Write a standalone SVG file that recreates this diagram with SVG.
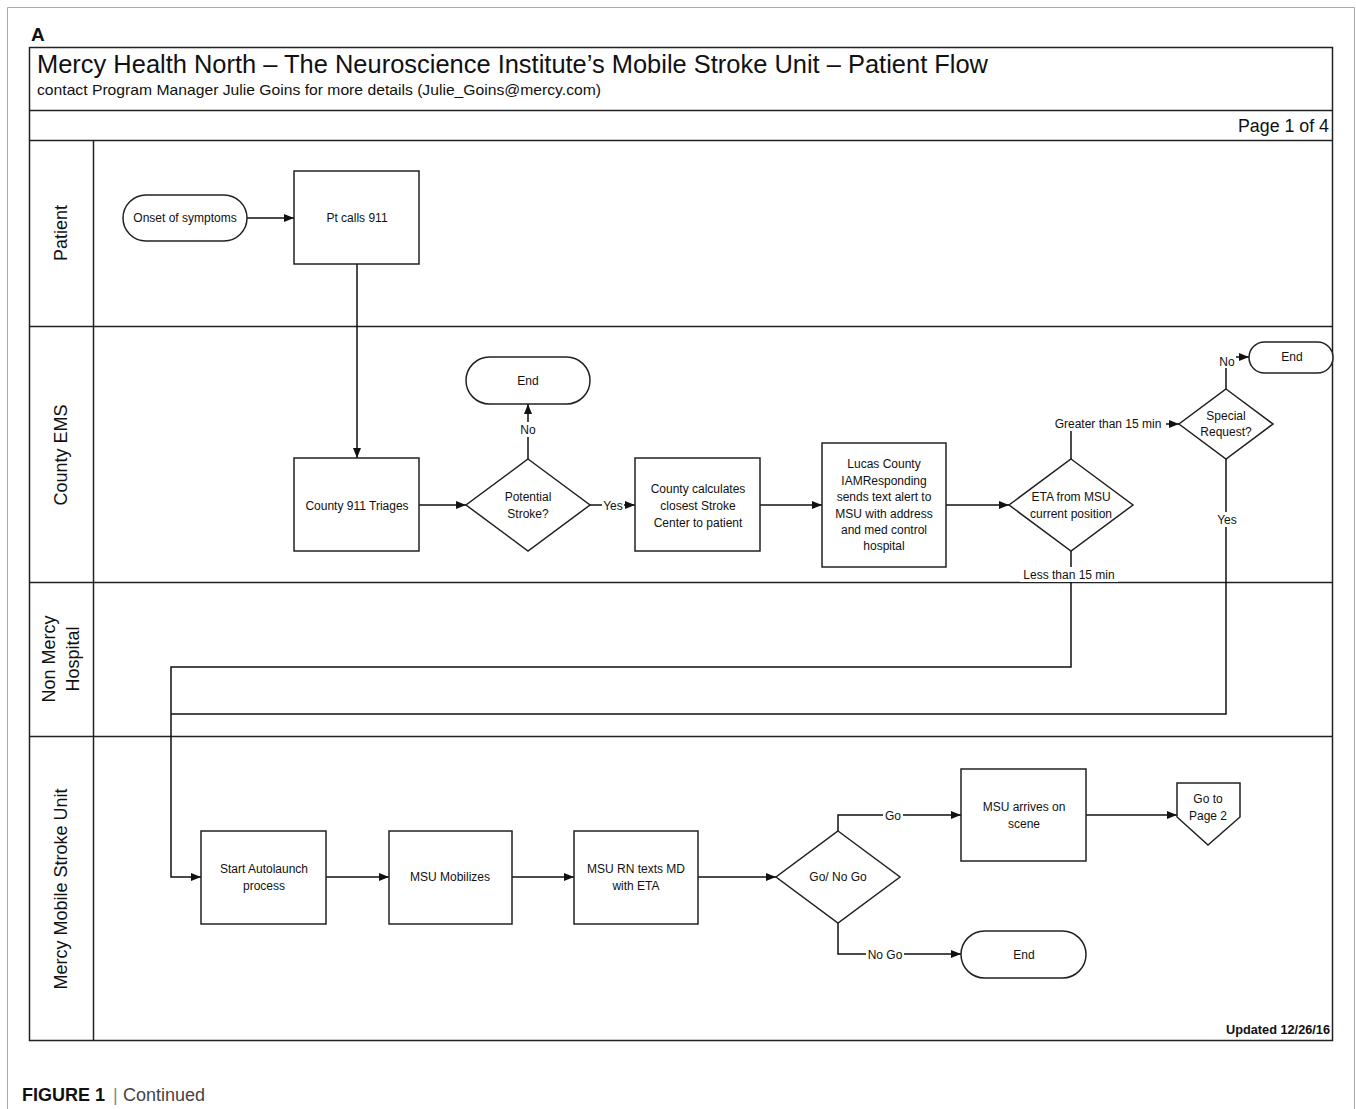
<svg xmlns="http://www.w3.org/2000/svg" width="1356" height="1109" viewBox="0 0 1356 1109">
<style>
text{font-family:"Liberation Sans",Arial,sans-serif;fill:#111}
.n{font-size:12px;text-anchor:middle}
.lbl{font-size:12px;text-anchor:middle}
.lane{font-size:18px;text-anchor:middle}
.box{fill:#fff;stroke:#222;stroke-width:1.5}
.ln{fill:none;stroke:#111;stroke-width:1.5}
.frame{fill:none;stroke:#222;stroke-width:1.5}
</style>
<defs>
<marker id="ah" markerWidth="10" markerHeight="8" refX="10" refY="4" orient="auto" markerUnits="userSpaceOnUse">
<path d="M0,0 L10,4 L0,8 Z" fill="#111"/>
</marker>
</defs>
<rect x="0" y="0" width="1356" height="1109" fill="#fff"/>
<path d="M7.5,1109 V7.5 H1354.5 V1109" fill="none" stroke="#aaa" stroke-width="1"/>
<text x="31" y="41" style="font-size:19px;font-weight:bold">A</text>

<g id="frame">
<rect x="29.5" y="47.5" width="1303" height="993" class="frame"/>
<line x1="29.5" y1="110.5" x2="1332.5" y2="110.5" class="frame"/>
<line x1="29.5" y1="140.5" x2="1332.5" y2="140.5" class="frame"/>
<line x1="29.5" y1="326.5" x2="1332.5" y2="326.5" class="frame"/>
<line x1="29.5" y1="582.5" x2="1332.5" y2="582.5" class="frame"/>
<line x1="29.5" y1="736.5" x2="1332.5" y2="736.5" class="frame"/>
<line x1="93.5" y1="140.5" x2="93.5" y2="1040.5" class="frame"/>
<text x="37" y="73" style="font-size:25px" textLength="951" lengthAdjust="spacingAndGlyphs">Mercy Health North – The Neuroscience Institute’s Mobile Stroke Unit – Patient Flow</text>
<text x="37" y="95" style="font-size:15px" textLength="564" lengthAdjust="spacingAndGlyphs">contact Program Manager Julie Goins for more details (Julie_Goins@mercy.com)</text>
<text x="1329" y="132" style="font-size:18px;text-anchor:end" textLength="91" lengthAdjust="spacingAndGlyphs">Page 1 of 4</text>
<text x="1330" y="1034" style="font-size:12px;font-weight:bold;text-anchor:end" textLength="104" lengthAdjust="spacingAndGlyphs">Updated 12/26/16</text>
</g>

<g id="lanes">
<text class="lane" transform="translate(67,233) rotate(-90)">Patient</text>
<text class="lane" transform="translate(67,455) rotate(-90)">County EMS</text>
<text class="lane" transform="translate(55,659) rotate(-90)">Non Mercy</text>
<text class="lane" transform="translate(79,659) rotate(-90)">Hospital</text>
<text class="lane" transform="translate(67,889) rotate(-90)">Mercy Mobile Stroke Unit</text>
</g>

<g id="connectors">
<line x1="247" y1="218" x2="294" y2="218" class="ln" marker-end="url(#ah)"/>
<line x1="357" y1="264" x2="357" y2="458" class="ln" marker-end="url(#ah)"/>
<line x1="419" y1="505" x2="466" y2="505" class="ln" marker-end="url(#ah)"/>
<line x1="528" y1="459" x2="528" y2="404" class="ln" marker-end="url(#ah)"/>
<line x1="590" y1="505" x2="635" y2="505" class="ln" marker-end="url(#ah)"/>
<line x1="760" y1="505" x2="822" y2="505" class="ln" marker-end="url(#ah)"/>
<line x1="946" y1="505" x2="1009" y2="505" class="ln" marker-end="url(#ah)"/>
<polyline points="1071,459 1071,424 1179,424" class="ln" marker-end="url(#ah)"/>
<polyline points="1226,389 1226,357 1249,357" class="ln" marker-end="url(#ah)"/>
<polyline points="1071,551 1071,667 171,667 171,877 201,877" class="ln" marker-end="url(#ah)"/>
<polyline points="1226,459 1226,714 171,714" class="ln"/>
<line x1="326" y1="877" x2="389" y2="877" class="ln" marker-end="url(#ah)"/>
<line x1="512" y1="877" x2="574" y2="877" class="ln" marker-end="url(#ah)"/>
<line x1="698" y1="877" x2="776" y2="877" class="ln" marker-end="url(#ah)"/>
<polyline points="838,831 838,815 961,815" class="ln" marker-end="url(#ah)"/>
<polyline points="838,923 838,954 961,954" class="ln" marker-end="url(#ah)"/>
<line x1="1086" y1="815" x2="1177" y2="815" class="ln" marker-end="url(#ah)"/>
<g id="edge-labels">
<rect x="518" y="422" width="20" height="15" fill="#fff"/>
<text class="lbl" x="528" y="434">No</text>
<rect x="602" y="498" width="22" height="14" fill="#fff"/>
<text class="lbl" x="613" y="510">Yes</text>
<rect x="1050" y="416" width="116" height="15" fill="#fff"/>
<text class="lbl" x="1108" y="428">Greater than 15 min</text>
<rect x="1216" y="354" width="20" height="14" fill="#fff"/>
<text class="lbl" x="1227" y="366">No</text>
<rect x="1020" y="567" width="98" height="15" fill="#fff"/>
<text class="lbl" x="1069" y="579">Less than 15 min</text>
<rect x="1214" y="512" width="24" height="15" fill="#fff"/>
<text class="lbl" x="1227" y="524">Yes</text>
<rect x="883" y="808" width="20" height="14" fill="#fff"/>
<text class="lbl" x="893" y="820">Go</text>
<rect x="866" y="947" width="38" height="14" fill="#fff"/>
<text class="lbl" x="885" y="959">No Go</text>
</g>
</g>

<g id="onset">
<rect x="123" y="195" width="124" height="46" rx="23" class="box"/>
<text class="n" x="185" y="222">Onset of symptoms</text>
</g>
<g id="ptcalls">
<rect x="294" y="171" width="125" height="93" class="box"/>
<text class="n" x="357" y="222">Pt calls 911</text>
</g>
<g id="triage">
<rect x="294" y="458" width="125" height="93" class="box"/>
<text class="n" x="357" y="510">County 911 Triages</text>
</g>
<g id="potential">
<polygon points="528,459 590,505 528,551 466,505" class="box"/>
<text class="n" x="528" y="501">Potential</text>
<text class="n" x="528" y="518">Stroke?</text>
</g>
<g id="end1">
<rect x="466" y="357" width="124" height="47" rx="23.5" class="box"/>
<text class="n" x="528" y="385">End</text>
</g>
<g id="calc">
<rect x="635" y="458" width="125" height="93" class="box"/>
<text class="n" x="698" y="493">County calculates</text>
<text class="n" x="698" y="510">closest Stroke</text>
<text class="n" x="698" y="527">Center to patient</text>
</g>
<g id="lucas">
<rect x="822" y="443" width="124" height="124" class="box"/>
<text class="n" x="884" y="468">Lucas County</text>
<text class="n" x="884" y="485">IAMResponding</text>
<text class="n" x="884" y="501">sends text alert to</text>
<text class="n" x="884" y="518">MSU with address</text>
<text class="n" x="884" y="534">and med control</text>
<text class="n" x="884" y="550">hospital</text>
</g>
<g id="eta">
<polygon points="1071,459 1133,505 1071,551 1009,505" class="box"/>
<text class="n" x="1071" y="501">ETA from MSU</text>
<text class="n" x="1071" y="518">current position</text>
</g>
<g id="special">
<polygon points="1226,389 1273,424 1226,459 1179,424" class="box"/>
<text class="n" x="1226" y="420">Special</text>
<text class="n" x="1226" y="436">Request?</text>
</g>
<g id="end2">
<rect x="1249" y="342" width="84" height="31" rx="15.5" class="box"/>
<text class="n" x="1292" y="361">End</text>
</g>
<g id="autolaunch">
<rect x="201" y="831" width="125" height="93" class="box"/>
<text class="n" x="264" y="873">Start Autolaunch</text>
<text class="n" x="264" y="890">process</text>
</g>
<g id="mobilizes">
<rect x="389" y="831" width="123" height="93" class="box"/>
<text class="n" x="450" y="881">MSU Mobilizes</text>
</g>
<g id="rntexts">
<rect x="574" y="831" width="124" height="93" class="box"/>
<text class="n" x="636" y="873">MSU RN texts MD</text>
<text class="n" x="636" y="890">with ETA</text>
</g>
<g id="gonogo">
<polygon points="838,831 900,877 838,923 776,877" class="box"/>
<text class="n" x="838" y="881">Go/ No Go</text>
</g>
<g id="arrives">
<rect x="961" y="769" width="125" height="92" class="box"/>
<text class="n" x="1024" y="811">MSU arrives on</text>
<text class="n" x="1024" y="828">scene</text>
</g>
<g id="page2">
<polygon points="1177,783 1240,783 1240,817 1208,845 1177,817" class="box"/>
<text class="n" x="1208" y="803">Go to</text>
<text class="n" x="1208" y="820">Page 2</text>
</g>
<g id="end3">
<rect x="961" y="931" width="125" height="47" rx="23.5" class="box"/>
<text class="n" x="1024" y="959">End</text>
</g>

<text x="22" y="1101" style="font-size:18px;font-weight:bold">FIGURE 1</text>
<text x="113" y="1101" style="font-size:18px;fill:#888">|</text>
<text x="123" y="1101" style="font-size:18px;fill:#444">Continued</text>
</svg>
